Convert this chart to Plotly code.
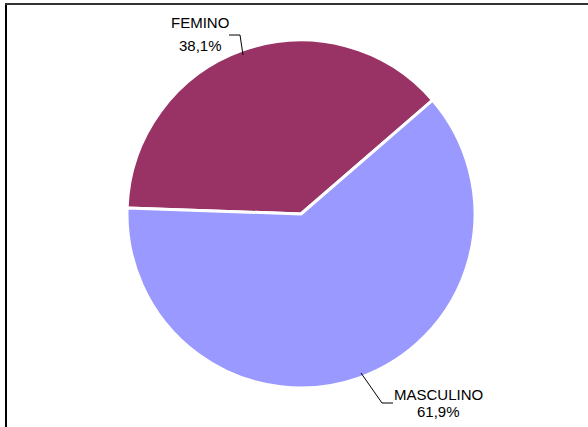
import plotly.graph_objects as go

labels = ["FEMINO", "MASCULINO"]
values = [38.1, 61.9]
colors = ["#993366", "#9999FF"]
label_text = ["38,1%", "61,9%"]

W, H = 588, 427
cx, cy, r = 301, 214, 174

def px(x):
    return x / W

def py(y):
    return 1 - y / H

fig = go.Figure(go.Pie(
    labels=labels, values=values, sort=False, direction="clockwise",
    rotation=272, textinfo="none", hoverinfo="label+percent",
    marker=dict(colors=colors, line=dict(color="white", width=3)),
    domain=dict(x=[px(cx - r), px(cx + r)], y=[py(cy + r), py(cy - r)]),
    showlegend=False,
))

font = dict(family="Liberation Sans, Arial, sans-serif", size=15, color="black")
# (x center, y of name line, y of value line)
ann_pos = [(200, 23, 45), (438, 394, 411)]
for (x, y1, y2), lab, t in zip(ann_pos, labels, label_text):
    for y, s in ((y1, lab), (y2, t)):
        fig.add_annotation(x=px(x), y=py(y), xref="paper", yref="paper",
                           text=s, showarrow=False, font=font,
                           xanchor="center", yanchor="middle")

line_style = dict(color="black", width=1)
leaders = [
    [(229, 35), (240, 35), (243, 55)],
    [(361, 373), (382, 403), (393, 403)],
]
for pts in leaders:
    path = "M " + " L ".join(f"{px(x)},{py(y)}" for x, y in pts)
    fig.add_shape(type="path", path=path, xref="paper", yref="paper", line=line_style)

fig.add_shape(type="line", x0=px(6), x1=px(6), y0=py(4), y1=py(430), xref="paper", yref="paper",
              line=dict(color="black", width=2))
fig.add_shape(type="line", x0=px(5), x1=px(590), y0=py(4), y1=py(4), xref="paper", yref="paper",
              line=dict(color="#333333", width=2))

fig.update_layout(width=W, height=H, margin=dict(l=0, r=0, t=0, b=0),
                  paper_bgcolor="white", plot_bgcolor="white")
fig.write_html("out.html")
